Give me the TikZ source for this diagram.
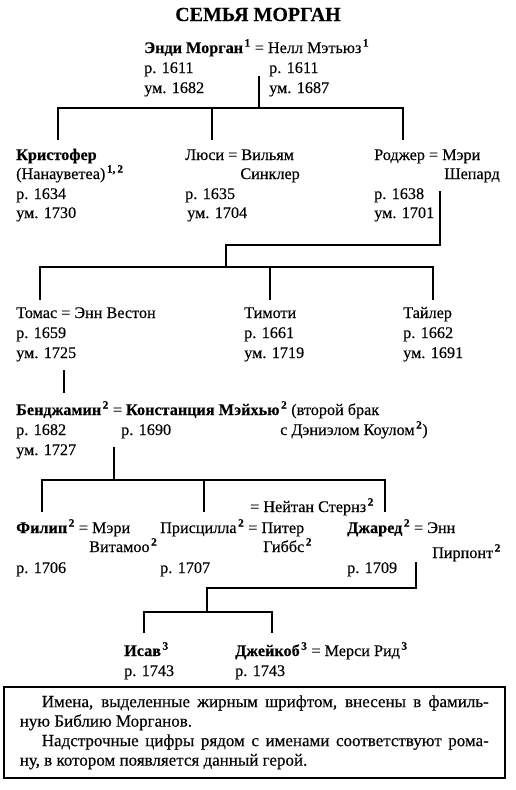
\documentclass[tikz,border=0pt]{standalone}
\usepackage{fontspec}
\setmainfont{Liberation Serif}[FakeBold=0.3]
\newcommand\bn[1]{{\bfseries #1}}
\newcommand\sps[1]{\kern1.5pt\textsuperscript{\bfseries #1}}
\begin{document}
\begin{tikzpicture}[x=1pt,y=-1pt,
  t/.style={anchor=base west, inner sep=0pt, font=\fontsize{16.2}{18}\selectfont},
  ln/.style={line width=1.6pt},
]
\useasboundingbox[fill=white] (0,0) rectangle (516,790);

% title
\node[anchor=base, inner sep=0pt, font=\fontsize{20}{24}\selectfont\bfseries] (title) at (258,21) {СЕМЬЯ МОРГАН};

% generation 1
\node[t] (andy) at (144,53) {\bn{Энди Морган}\sps{1} = Нелл Мэтьюз\sps{1}};
\node[t] (andyb) at (144,73) {р. 1611};
\node[t] (andyd) at (144,93) {ум. 1682};
\node[t] (nellb) at (269,73) {р. 1611};
\node[t] (nelld) at (269,93) {ум. 1687};

\coordinate (j1) at (259,76);
\coordinate (j1b) at (259,108);
\coordinate (k1) at (58,140);
\coordinate (k2) at (212,140);
\coordinate (k3) at (403,140);
\draw[ln] (j1) -- (j1b);
\draw[ln] (k1) -- (k1|-j1b) -- (k3|-j1b) -- (k3);
\draw[ln] (k2|-j1b) -- (k2);

% generation 2
\node[t] (chris) at (16,160) {\bn{Кристофер}};
\node[t] (chris2) at (16,179) {(Нанауветеа)\sps{1,\,2}};
\node[t] (chrisb) at (16,199) {р. 1634};
\node[t] (chrisd) at (16,218) {ум. 1730};

\node[t] (lucy) at (185,160) {Люси = Вильям};
\node[t, anchor=base east] (lucy2) at (300,179) {Синклер};
\node[t] (lucyb) at (185,199) {р. 1635};
\node[t] (lucyd) at (187,218) {ум. 1704};

\node[t] (roger) at (374,160) {Роджер = Мэри};
\node[t, anchor=base east] (roger2) at (500,179) {Шепард};
\node[t] (rogerb) at (374,199) {р. 1638};
\node[t] (rogerd) at (374,218) {ум. 1701};

\coordinate (j2) at (440,191);
\coordinate (j2a) at (440,245);
\coordinate (j2b) at (226,245);
\coordinate (j2c) at (226,267);
\coordinate (m1) at (40,300);
\coordinate (m2) at (270,300);
\coordinate (m3) at (433,300);
\draw[ln] (j2) -- (j2a) -- (j2b) -- (j2c);
\draw[ln] (m1) -- (m1|-j2c) -- (m3|-j2c) -- (m3);
\draw[ln] (m2|-j2c) -- (m2);

% generation 3
\node[t] (thomas) at (16,318) {Томас = Энн Вестон};
\node[t] (thomasb) at (16,338) {р. 1659};
\node[t] (thomasd) at (16,358) {ум. 1725};
\node[t] (timothy) at (244,318) {Тимоти};
\node[t] (timothyb) at (244,338) {р. 1661};
\node[t] (timothyd) at (244,358) {ум. 1719};
\node[t] (tyler) at (403,318) {Тайлер};
\node[t] (tylerb) at (403,338) {р. 1662};
\node[t] (tylerd) at (403,358) {ум. 1691};

\coordinate (j3) at (64,370);
\coordinate (j3b) at (64,393);
\draw[ln] (j3) -- (j3b);

% generation 4
\node[t] (ben) at (16,415) {\bn{Бенджамин}\sps{2} = \bn{Констанция Мэйхью}\sps{2} (второй брак};
\node[t] (benb) at (16,435) {р. 1682};
\node[t] (bend) at (16,455) {ум. 1727};
\node[t] (constb) at (121,435) {р. 1690};
\node[t] (const2) at (280,435) {с Дэниэлом Коулом\sps{2})};

\coordinate (j4) at (114,447);
\coordinate (j4b) at (114,480);
\coordinate (n1) at (42,512);
\coordinate (n2) at (204,512);
\coordinate (n3) at (385,512);
\draw[ln] (j4) -- (j4b);
\draw[ln] (n1) -- (n1|-j4b) -- (n3|-j4b) -- (n3);
\draw[ln] (n2|-j4b) -- (n2);

% generation 5
\node[t] (nathan) at (250,512) {= Нейтан Стернз\sps{2}};
\node[t] (philip) at (16,533) {\bn{Филип}\sps{2} = Мэри};
\node[t] (philip2) at (89,552) {Витамоо\sps{2}};
\node[t] (philipb) at (16,573) {р. 1706};
\node[t] (pris) at (160,533) {Присцилла\sps{2} = Питер};
\node[t] (pris2) at (263,552) {Гиббс\sps{2}};
\node[t] (prisb) at (160,573) {р. 1707};
\node[t] (jared) at (347,533) {\bn{Джаред}\sps{2} = Энн};
\node[t] (jared2) at (432,558) {Пирпонт\sps{2}};
\node[t] (jaredb) at (347,573) {р. 1709};

\coordinate (j5) at (416,562);
\coordinate (j5a) at (416,588);
\coordinate (j5b) at (207,588);
\coordinate (j5c) at (207,612);
\coordinate (q1) at (144,633);
\coordinate (q2) at (272,633);
\draw[ln] (j5) -- (j5a) -- (j5b) -- (j5c);
\draw[ln] (q1) -- (q1|-j5c) -- (q2|-j5c) -- (q2);

% generation 6
\node[t] (esau) at (124,656) {\bn{Исав}\sps{3}};
\node[t] (esaub) at (124,676) {р. 1743};
\node[t] (jacob) at (235,656) {\bn{Джейкоб}\sps{3} = Мерси Рид\sps{3}};
\node[t] (jacobb) at (235,676) {р. 1743};

% legend box
\node[draw, ln, anchor=north west, inner xsep=16pt, inner ysep=0pt,
      minimum width=501pt, minimum height=91pt, text width=469pt, align=justify,
      font=\fontsize{17}{19.5}\selectfont] (legend) at (3,686)
 {\hspace*{22pt}Имена, выделенные жирным шрифтом, внесены в фамиль-\linebreak ную Библию Морганов.\par
  \hspace*{22pt}Надстрочные цифры рядом с именами соответствуют рома-\linebreak ну, в котором появляется данный герой.};
\end{tikzpicture}
\end{document}
